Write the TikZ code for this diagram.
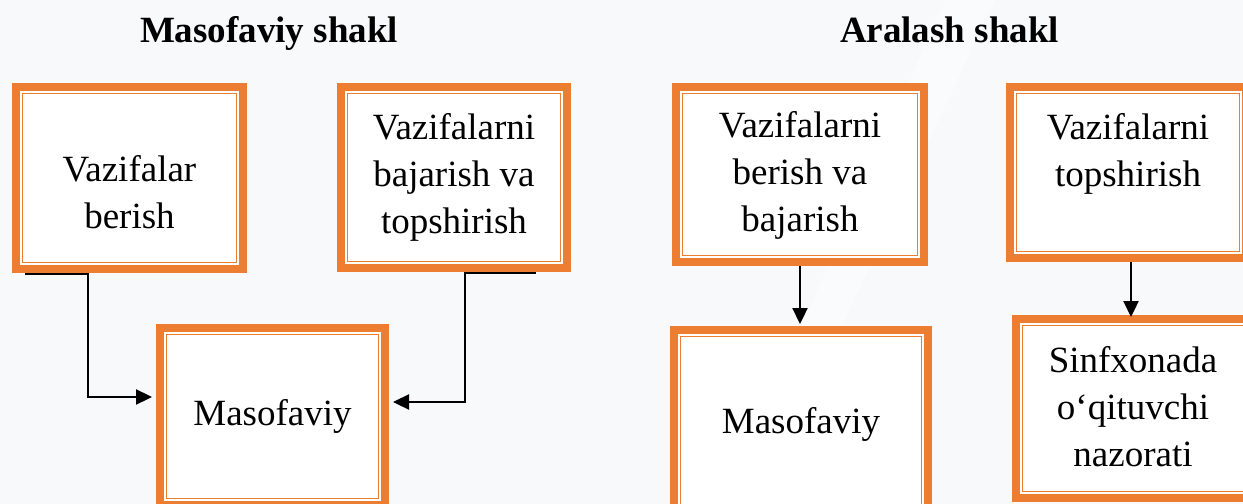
\documentclass[tikz,border=0pt]{standalone}
\usepackage{fontspec}
\setmainfont{Liberation Serif}
\usetikzlibrary{arrows.meta,calc}
\definecolor{org}{HTML}{ED7D31}
\definecolor{bg}{HTML}{F8F9FB}
\newcommand\fr[4]{\parbox[c][#2][t]{#1}{\centering\rule{0pt}{#3}#4}}
\newcommand\innerfr[1]{\draw[thinfr] ([shift={(6.5,6.5)}]#1.north west) rectangle ([shift={(-6.5,-6.5)}]#1.south east);}
\begin{document}
\begin{tikzpicture}[x=0.6pt,y=-0.6pt,
  box/.style={draw=org,line width=4.8pt,fill=white,inner sep=0pt,outer sep=0pt,font=\fontsize{22.2pt}{28.2pt}\selectfont},
  thinfr/.style={draw=org,line width=0.9pt},
  conn/.style={line width=1.4pt,-{Triangle[length=9.6pt,width=9pt]}},
  ttl/.style={font=\fontsize{22.2pt}{26pt}\selectfont\bfseries,anchor=base,inner sep=0pt}]
\fill[bg] (0,0) rectangle (1243,504);
\fill[white,opacity=0.35] (945,0) -- (995,0) -- (840,330) -- (800,330) -- cycle;
\useasboundingbox (0,0) rectangle (1243,504);

\node[ttl] (t1) at (269,43) {Masofaviy shakl};
\node[ttl] (t2) at (949.5,43) {Aralash shakl};

\node[box] (b1) at (129.5,178) {\fr{136.2pt}{109.2pt}{57pt}{Vazifalar\\berish}};
\node[box] (b2) at (454,177.5) {\fr{135.6pt}{108.6pt}{31.8pt}{Vazifalarni\\bajarish va\\topshirish}};
\node[box] (b3) at (272.5,416.5) {\fr{135pt}{106.2pt}{58.2pt}{Masofaviy}};
\node[box] (b4) at (800,174.5) {\fr{148.8pt}{105pt}{30.6pt}{Vazifalarni\\berish va\\bajarish}};
\node[box] (b5) at (801,425) {\fr{152.4pt}{114pt}{61.8pt}{Masofaviy}};
\node[box] (b6) at (1128,172.5) {\fr{141.6pt}{102.6pt}{31.8pt}{Vazifalarni\\topshirish}};
\node[box] (b7) at (1133,408.5) {\fr{140.4pt}{107.4pt}{31.8pt}{Sinfxonada\\o‘qituvchi\\nazorati}};
\innerfr{b1}\innerfr{b2}\innerfr{b3}\innerfr{b4}\innerfr{b5}\innerfr{b6}\innerfr{b7}

\coordinate (c1) at (25,274);
\coordinate (c2) at (536,273);
\coordinate (c4) at ($(b6.south)+(3,0)$);
\draw[conn,shorten >=4.8pt] (c1) -- ++(63,0) |- ($(b3.west)+(0,-19.5)$);
\draw[conn,shorten >=4.8pt] (c2) -- ++(-71,0) |- ($(b3.east)+(0,-14.5)$);
\draw[conn,shorten <=2.4pt,shorten >=3.6pt] (b4.south) -- (b4.south |- b5.north);
\draw[conn,shorten <=2.4pt,shorten >=1.2pt] (c4) -- (c4 |- b7.north);
\end{tikzpicture}
\end{document}
